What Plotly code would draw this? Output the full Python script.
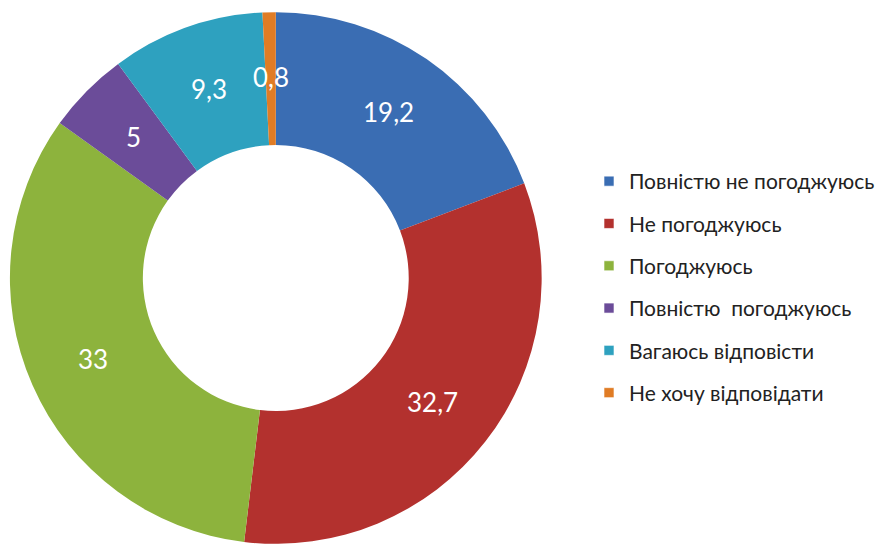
import math
import plotly.graph_objects as go

# Survey answers, share of respondents (%)
categories = [
    "Повністю не погоджуюсь",
    "Не погоджуюсь",
    "Погоджуюсь",
    "Повністю\u00a0 погоджуюсь",
    "Вагаюсь відповісти",
    "Не хочу відповідати",
]
values = [19.2, 32.7, 33, 5, 9.3, 0.8]
colors = ["#3a6db3", "#b3312e", "#8db33d", "#6b4c99", "#2ea1bf", "#e07c25"]

# Ukrainian-style decimal comma for the slice labels
labels_text = [f"{v:g}".replace(".", ",") for v in values]

W, H = 880, 548
dom_x = [10 / W, 546 / W]
dom_y = [2 / H, 538 / H]
HOLE = 0.5

fig = go.Figure()

fig.add_trace(go.Pie(
    labels=categories,
    values=values,
    textinfo="none",
    marker=dict(colors=colors, line=dict(width=0)),
    hole=HOLE,
    sort=False,
    direction="clockwise",
    rotation=0,
    showlegend=False,
    domain=dict(x=dom_x, y=dom_y),
    hoverinfo="label+value",
))

# Value labels sit at the middle of the ring, on each slice's mid-angle
cx = (dom_x[0] + dom_x[1]) / 2 * W
cy = (dom_y[0] + dom_y[1]) / 2 * H
radius = min((dom_x[1] - dom_x[0]) * W, (dom_y[1] - dom_y[0]) * H) / 2
r_label = radius * (1 + HOLE) / 2
total = sum(values)
cum = 0.0
for v, txt in zip(values, labels_text):
    mid = (cum + v / 2) / total * 2 * math.pi
    cum += v
    px = cx + r_label * math.sin(mid)
    py = cy + r_label * math.cos(mid)
    fig.add_annotation(
        x=px / W, y=py / H, xref="paper", yref="paper",
        text=txt, showarrow=False,
        xanchor="center", yanchor="middle",
        font=dict(family="Lato", size=26, color="white"),
    )

# Legend entries: one group per category so the rows are spaced apart
for name, col in zip(categories, colors):
    fig.add_trace(go.Scatter(
        x=[None], y=[None],
        mode="markers",
        name=name,
        legendgroup=name,
        marker=dict(symbol="square", size=10, color=col,
                    line=dict(width=1, color="rgba(255,255,255,0.6)")),
        showlegend=True,
        hoverinfo="skip",
    ))

fig.update_layout(
    width=W,
    height=H,
    margin=dict(l=0, r=0, t=0, b=0),
    paper_bgcolor="white",
    plot_bgcolor="white",
    xaxis=dict(visible=False),
    yaxis=dict(visible=False),
    legend=dict(
        x=594 / W,
        xanchor="left",
        y=1 - 287 / H,
        yanchor="middle",
        font=dict(family="Lato", size=21, color="#222222"),
        tracegroupgap=12,
        itemwidth=30,
        bgcolor="rgba(0,0,0,0)",
    ),
)

fig.write_html("out.html")
